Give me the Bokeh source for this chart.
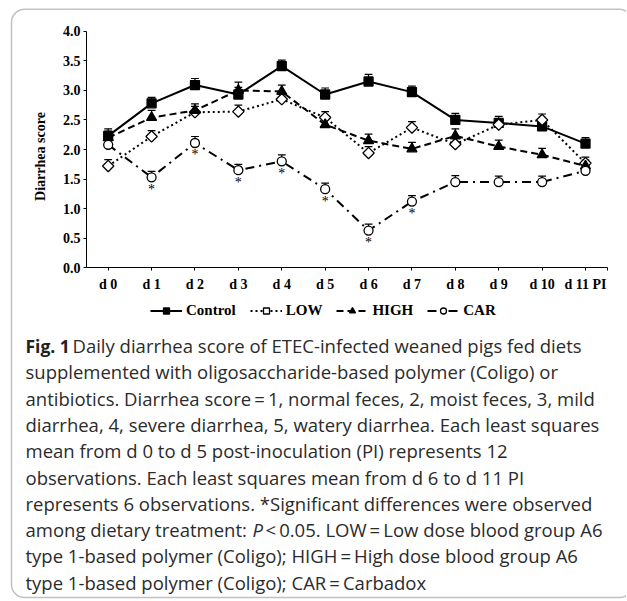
import numpy as np
from bokeh.plotting import figure
from bokeh.models import (Range1d, FixedTicker, Legend, LegendItem, Label,
                          BoxAnnotation, PrintfTickFormatter, LinearAxis)
from bokeh.core.properties import value
from bokeh.embed import file_html
from bokeh.resources import INLINE

# ---------------- data ----------------
days = [0, 1, 2, 3, 4, 5, 6, 7, 8, 9, 10, 11]
day_labels = ["d 0", "d 1", "d 2", "d 3", "d 4", "d 5", "d 6", "d 7", "d 8",
              "d 9", "d 10", "d 11 PI"]
control = [2.23, 2.78, 3.09, 2.93, 3.41, 2.93, 3.15, 2.97, 2.50, 2.45, 2.39, 2.10]
low = [1.72, 2.22, 2.63, 2.64, 2.85, 2.54, 1.94, 2.37, 2.09, 2.42, 2.50, 1.77]
high = [2.20, 2.54, 2.66, 3.00, 2.98, 2.42, 2.15, 2.01, 2.23, 2.05, 1.91, 1.72]
car = [2.08, 1.53, 2.11, 1.65, 1.80, 1.33, 0.63, 1.12, 1.45, 1.45, 1.45, 1.64]
control_se = [0.12, 0.10, 0.11, 0.12, 0.10, 0.11, 0.12, 0.10, 0.11, 0.11, 0.10, 0.10]
low_se = [0.11, 0.10, 0.10, 0.11, 0.10, 0.10, 0.11, 0.10, 0.10, 0.10, 0.10, 0.10]
high_se = [0.11, 0.12, 0.11, 0.14, 0.11, 0.10, 0.11, 0.11, 0.12, 0.11, 0.11, 0.10]
car_se = [0.10, 0.10, 0.11, 0.10, 0.11, 0.10, 0.11, 0.10, 0.11, 0.10, 0.10, 0.09]
sig_days = [1, 2, 3, 4, 5, 6, 7]
y_ticks = [0.0, 0.5, 1.0, 1.5, 2.0, 2.5, 3.0, 3.5, 4.0]

caption_lines = [
    "supplemented with oligosaccharide-based polymer (Coligo) or",
    "antibiotics. Diarrhea score\u2009=\u20091, normal feces, 2, moist feces, 3, mild",
    "diarrhea, 4, severe diarrhea, 5, watery diarrhea. Each least squares",
    "mean from d 0 to d 5 post-inoculation (PI) represents 12",
    "observations. Each least squares mean from d 6 to d 11 PI",
    "represents 6 observations. *Significant differences were observed",
]
caption_tail = [
    "type 1-based polymer (Coligo); HIGH\u2009=\u2009High dose blood group A6",
    "type 1-based polymer (Coligo); CAR\u2009=\u2009Carbadox",
]

# ---------------- layout (canvas pixels) ----------------
W, H = 626, 600
AX_L, AX_R = 86.0, 606.7      # pixel x of data -0.5 and 11.5
AX_B, AX_T = 267.3, 30.7      # pixel y of data 0 and 4
xs = (AX_R - AX_L) / 12.0
ys = (AX_B - AX_T) / 4.0


def dx(px):  # canvas pixel x -> data x
    return -0.5 + (px - AX_L) / xs


def dy(py):  # canvas pixel y -> data y
    return (AX_B - py) / ys


p = figure(width=W, height=H, output_backend="svg", toolbar_location=None,
           x_range=Range1d(dx(0), dx(W)), y_range=Range1d(dy(H), dy(0)),
           x_axis_location=None, y_axis_location=None, tools="",
           min_border=0, min_border_left=0, min_border_right=0,
           min_border_top=0, min_border_bottom=0)
p.outline_line_color = None
p.grid.visible = False
p.background_fill_color = "white"
p.border_fill_color = "white"

SERIF = "Liberation Serif"

# axes (fixed at the data origin, bounded to the data area)
xaxis = LinearAxis(fixed_location=0, bounds=(-0.5, 11.5),
                   ticker=FixedTicker(ticks=days + [11.5]))
xaxis.major_label_overrides = {**{d: l for d, l in zip(days, day_labels)}, 11.5: ""}
xaxis.minor_tick_line_color = None
xaxis.major_tick_in = 0
xaxis.major_tick_out = 3
xaxis.axis_line_color = "black"
xaxis.major_tick_line_color = "black"
xaxis.major_label_text_font = SERIF
xaxis.major_label_text_font_style = "bold"
xaxis.major_label_text_font_size = "14px"
xaxis.major_label_text_color = "black"
xaxis.major_label_standoff = 6
p.add_layout(xaxis, "below")

yaxis = LinearAxis(fixed_location=-0.5, bounds=(0, 4),
                   ticker=FixedTicker(ticks=y_ticks))
yaxis.formatter = PrintfTickFormatter(format="%.1f")
yaxis.minor_tick_line_color = None
yaxis.major_tick_in = 0
yaxis.major_tick_out = 3
yaxis.axis_line_color = "black"
yaxis.major_tick_line_color = "black"
yaxis.major_label_text_font = SERIF
yaxis.major_label_text_font_style = "bold"
yaxis.major_label_text_font_size = "14px"
yaxis.major_label_text_color = "black"
yaxis.major_label_standoff = 3
p.add_layout(yaxis, "left")

# y-axis title
p.add_layout(Label(x=dx(40), y=dy(156), text="Diarrhea score", angle=np.pi / 2,
                   text_font=SERIF, text_font_style="bold", text_font_size="14px",
                   text_color="black", text_align="center", text_baseline="middle"))

series = [
    ("Control", control, control_se, "solid", "square", 9, "black", 0),
    ("LOW", low, low_se, "2 3", "square", 8, "white", np.pi / 4),
    ("HIGH", high, high_se, "7 4", "triangle", 10, "black", 0),
    ("CAR", car, car_se, "9 5 2 5", "circle", 9, "white", 0),
]

# lines
line_r = {}
for name, vals, se, dash, mk, sz, fill, ang in series:
    line_r[name] = p.line(days, vals, line_color="black", line_width=2,
                          line_dash=dash)

# error bars (upward) with caps
cap = 0.09
for name, vals, se, dash, mk, sz, fill, ang in series:
    top = [v + s for v, s in zip(vals, se)]
    p.segment(x0=days, y0=vals, x1=days, y1=top, line_color="black", line_width=1.2)
    p.segment(x0=[d - cap for d in days], y0=top, x1=[d + cap for d in days],
              y1=top, line_color="black", line_width=1.2)

# markers
mark_r = {}
for name, vals, se, dash, mk, sz, fill, ang in series:
    mark_r[name] = p.scatter(days, vals, marker=mk, size=sz, fill_color=fill,
                             line_color="black", line_width=1.3, angle=ang)

# significance stars
p.text(x=sig_days, y=[car[d] for d in sig_days], text=["*"] * len(sig_days),
       text_font=value(SERIF), text_font_size="14px", text_align="center",
       text_baseline="middle", y_offset=12, text_color="black")

legend = Legend(items=[LegendItem(label=n, renderers=[line_r[n], mark_r[n]])
                       for n, *_ in series],
                orientation="horizontal", location=(150, H - 319),
                label_text_font=SERIF, label_text_font_style="bold",
                label_text_font_size="15px", label_text_color="black",
                glyph_width=32, glyph_height=15, label_height=15,
                label_standoff=4, spacing=14,
                padding=0, margin=0, border_line_color=None,
                background_fill_alpha=0)
p.add_layout(legend)

# caption
SANS = "Open Sans"
CCOL = "#2b2b2b"
FS = "18.5px"
LX = 25
line_y = [345 + 26.3 * i for i in range(10)]
p.add_layout(Label(x=dx(LX), y=dy(line_y[0]), text="Fig. 1", text_font=SANS,
                   text_font_style="bold", text_font_size="17.5px",
                   text_color="#222222", text_baseline="middle"))
p.add_layout(Label(x=dx(72), y=dy(line_y[0]),
                   text="Daily diarrhea score of ETEC-infected weaned pigs fed diets",
                   text_font=SANS, text_font_size=FS, text_color=CCOL,
                   text_baseline="middle"))
for i, t in enumerate(caption_lines):
    p.add_layout(Label(x=dx(LX), y=dy(line_y[i + 1]), text=t, text_font=SANS,
                       text_font_size=FS, text_color=CCOL,
                       text_baseline="middle"))
p.add_layout(Label(x=dx(LX), y=dy(line_y[7]), text="among dietary treatment:",
                   text_font=SANS, text_font_size=FS, text_color=CCOL,
                   text_baseline="middle"))
p.add_layout(Label(x=dx(252), y=dy(line_y[7]), text="P", text_font=SANS,
                   text_font_style="italic", text_font_size=FS,
                   text_color=CCOL, text_baseline="middle"))
p.add_layout(Label(x=dx(265), y=dy(line_y[7]),
                   text="<\u20090.05. LOW\u2009=\u2009Low dose blood group A6",
                   text_font=SANS, text_font_size=FS, text_color=CCOL,
                   text_baseline="middle"))
for i, t in enumerate(caption_tail):
    p.add_layout(Label(x=dx(LX), y=dy(line_y[8 + i]), text=t, text_font=SANS,
                       text_font_size=FS, text_color=CCOL,
                       text_baseline="middle"))

# rounded frame around the figure + caption
p.add_layout(BoxAnnotation(left=dx(11), right=dx(632), top=dy(8.8), bottom=dy(597),
                           fill_alpha=0, line_color="#333333", line_width=1.5,
                           border_radius=13, level="overlay"))

open("out.html", "w").write(file_html(p, INLINE))
